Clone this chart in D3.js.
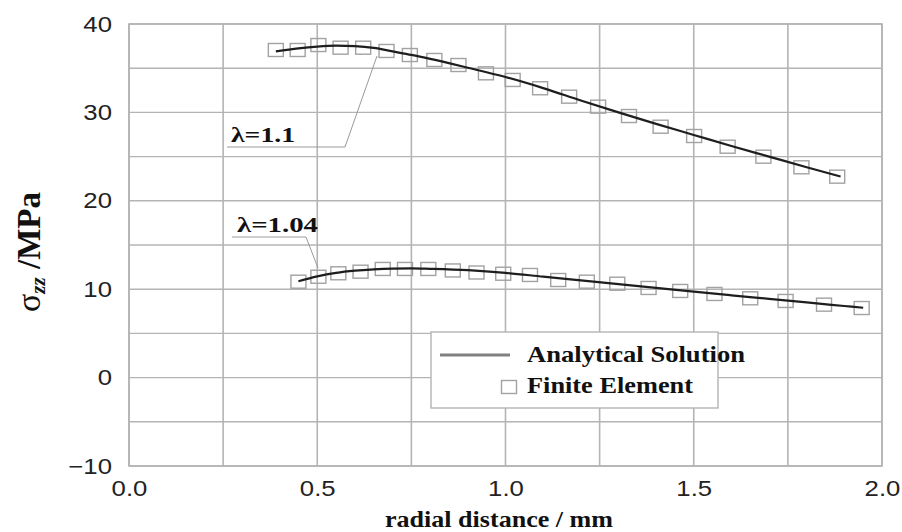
<!DOCTYPE html>
<html>
<head>
<meta charset="utf-8">
<script src="https://cdn.jsdelivr.net/npm/d3@7"></script>
<style>
  body { margin: 0; background: #fff; }
  svg { display: block; }
</style>
</head>
<body>
<div class="chart"></div>
<script>
/*** DATA ***/
const xTicks = [0, 0.5, 1.0, 1.5, 2.0];
const yTicks = [-10, 0, 10, 20, 30, 40];

// lambda = 1.1, analytical curve
const anX11 = [0.39, 0.45, 0.5, 0.55, 0.6, 0.65, 0.7, 0.75, 0.8, 0.9, 1.0, 1.1, 1.2, 1.3, 1.4, 1.5, 1.6, 1.7, 1.8, 1.89];
const anY11 = [36.9, 37.25, 37.45, 37.55, 37.5, 37.3, 36.9, 36.5, 36.05, 35.05, 34.0, 32.75, 31.35, 30.0, 28.7, 27.45, 26.2, 25.0, 23.8, 22.75];
// lambda = 1.1, finite element
const feX11 = [0.390, 0.448, 0.503, 0.562, 0.622, 0.684, 0.746, 0.811, 0.875, 0.948, 1.019, 1.092, 1.169, 1.246, 1.328, 1.412, 1.501, 1.590, 1.685, 1.786, 1.881];
const feY11 = [37.06, 37.06, 37.62, 37.32, 37.32, 36.95, 36.49, 35.93, 35.36, 34.42, 33.67, 32.73, 31.78, 30.65, 29.59, 28.38, 27.33, 26.12, 24.99, 23.79, 22.73];

// lambda = 1.04, analytical curve
const anX104 = [0.45, 0.5, 0.55, 0.6, 0.65, 0.7, 0.75, 0.8, 0.9, 1.0, 1.1, 1.2, 1.3, 1.4, 1.5, 1.6, 1.7, 1.8, 1.9, 1.95];
const anY104 = [10.9, 11.45, 11.85, 12.1, 12.25, 12.33, 12.35, 12.3, 12.15, 11.85, 11.42, 11.0, 10.58, 10.15, 9.72, 9.31, 8.91, 8.5, 8.1, 7.9];
// lambda = 1.04, finite element
const feX104 = [0.450, 0.503, 0.556, 0.615, 0.674, 0.733, 0.795, 0.860, 0.923, 0.994, 1.065, 1.140, 1.216, 1.297, 1.380, 1.464, 1.555, 1.650, 1.744, 1.846, 1.946];
const feY104 = [10.85, 11.41, 11.80, 11.98, 12.29, 12.29, 12.29, 12.12, 11.89, 11.75, 11.61, 11.04, 10.85, 10.62, 10.14, 9.80, 9.46, 8.97, 8.67, 8.25, 7.87];

const zip = (xs, ys) => xs.map((x, i) => ({ x: x, y: ys[i] }));

/*** DRAW ***/
const width = 902, height = 532;
const plot = { left: 129, right: 882, top: 24, bottom: 466 };
const SX = 1.17; // text is drawn slightly wide

const svg = d3.select('.chart')
  .append('svg')
  .attr('width', width)
  .attr('height', height);

const x = d3.scaleLinear().domain([0, 2]).range([plot.left, plot.right]);
const y = d3.scaleLinear().domain([-10, 40]).range([plot.bottom, plot.top]);

const gridColor = '#b4b4b4';

// grid
svg.append('g')
  .selectAll('line')
  .data(d3.range(0, 2.001, 0.25))
  .join('line')
  .attr('x1', d => x(d)).attr('x2', d => x(d))
  .attr('y1', plot.top).attr('y2', plot.bottom)
  .style('stroke', gridColor)
  .style('stroke-width', 1.6);

svg.append('g')
  .selectAll('line')
  .data(d3.range(-10, 40.001, 5))
  .join('line')
  .attr('x1', plot.left).attr('x2', plot.right)
  .attr('y1', d => y(d)).attr('y2', d => y(d))
  .style('stroke', gridColor)
  .style('stroke-width', 1.4);

// tick labels
const xAxis = svg.append('g')
  .attr('transform', `translate(0, ${plot.bottom})`)
  .call(d3.axisBottom(x).tickValues(xTicks).tickFormat(d3.format('.1f')).tickSize(0).tickPadding(14));

const yAxis = svg.append('g')
  .attr('transform', `translate(${plot.left}, 0)`)
  .call(d3.axisLeft(y).tickValues(yTicks).tickSize(0).tickPadding(0));

[xAxis, yAxis].forEach(g => {
  g.select('.domain').remove();
  g.selectAll('text')
    .style('font-family', '"Liberation Sans", Arial, sans-serif')
    .style('font-size', '22px')
    .style('fill', '#222');
});
xAxis.selectAll('text')
  .attr('x', 0)
  .attr('transform', `scale(${SX},1)`);
yAxis.selectAll('text')
  .attr('x', -17 / SX)
  .attr('transform', `scale(${SX},1)`);

// curves
const line = d3.line()
  .x(d => x(d.x))
  .y(d => y(d.y))
  .curve(d3.curveMonotoneX);

const series = [
  { an: zip(anX11, anY11), fe: zip(feX11, feY11) },
  { an: zip(anX104, anY104), fe: zip(feX104, feY104) }
];

const sqW = 15, sqH = 13;

series.forEach(s => {
  svg.append('g')
    .selectAll('rect')
    .data(s.fe)
    .join('rect')
    .attr('x', d => x(d.x) - sqW / 2)
    .attr('y', d => y(d.y) - sqH / 2)
    .attr('width', sqW)
    .attr('height', sqH)
    .style('fill', 'none')
    .style('stroke', '#a2a2a2')
    .style('stroke-width', 1.4);

  svg.append('path')
    .datum(s.an)
    .attr('d', line)
    .style('fill', 'none')
    .style('stroke', '#1e1e1e')
    .style('stroke-width', 2.2);
});

// frame
svg.append('rect')
  .attr('x', plot.left)
  .attr('y', plot.top)
  .attr('width', plot.right - plot.left)
  .attr('height', plot.bottom - plot.top)
  .style('fill', 'none')
  .style('stroke', gridColor)
  .style('stroke-width', 1.6);

// text helper, stretched to a given width
function addText(sel, tx, ty, str, size, len) {
  return sel.append('text')
    .attr('x', tx)
    .attr('y', ty)
    .attr('textLength', len)
    .attr('lengthAdjust', 'spacingAndGlyphs')
    .style('font-family', '"Liberation Serif", "Times New Roman", serif')
    .style('font-weight', 'bold')
    .style('font-size', size + 'px')
    .style('fill', '#111')
    .text(str);
}

// lambda labels with leader lines
const leader = svg.append('g')
  .style('fill', 'none')
  .style('stroke', '#9a9a9a')
  .style('stroke-width', 1);

leader.append('polyline')
  .attr('points', [[227, 147], [345, 147], [377, 56]].join(' '));
leader.append('polyline')
  .attr('points', [[232, 237], [306, 237], [318, 268]].join(' '));

addText(svg, 231, 142, 'λ=1.1', 22, 64);
addText(svg, 237, 232, 'λ=1.04', 22, 81);

// legend
const legend = svg.append('g');
legend.append('rect')
  .attr('x', 431).attr('y', 332)
  .attr('width', 287).attr('height', 76)
  .style('fill', '#fff')
  .style('stroke', gridColor)
  .style('stroke-width', 1.4);
legend.append('line')
  .attr('x1', 440).attr('x2', 510)
  .attr('y1', 355).attr('y2', 355)
  .style('stroke', '#808080')
  .style('stroke-width', 3);
legend.append('rect')
  .attr('x', 509 - sqW / 2).attr('y', 387 - sqH / 2)
  .attr('width', sqW).attr('height', sqH)
  .style('fill', 'none')
  .style('stroke', '#a2a2a2')
  .style('stroke-width', 1.4);
addText(legend, 527, 362, 'Analytical Solution', 24, 218);
addText(legend, 527, 393, 'Finite Element', 24, 166);

// axis titles
addText(svg, 385, 527, 'radial distance / mm', 23, 228);

const yTitle = svg.append('text')
  .attr('transform', 'translate(40, 252) rotate(-90)')
  .attr('text-anchor', 'middle')
  .style('font-family', '"Liberation Serif", "Times New Roman", serif')
  .style('fill', '#111');
yTitle.append('tspan')
  .style('font-size', '34px')
  .text('σ');
yTitle.append('tspan')
  .attr('dy', 5)
  .style('font-size', '21px')
  .style('font-weight', 'bold')
  .style('font-style', 'italic')
  .text('zz');
yTitle.append('tspan')
  .attr('dy', -5)
  .style('font-size', '33px')
  .style('font-weight', 'bold')
  .text(' /MPa');
</script>
</body>
</html>
